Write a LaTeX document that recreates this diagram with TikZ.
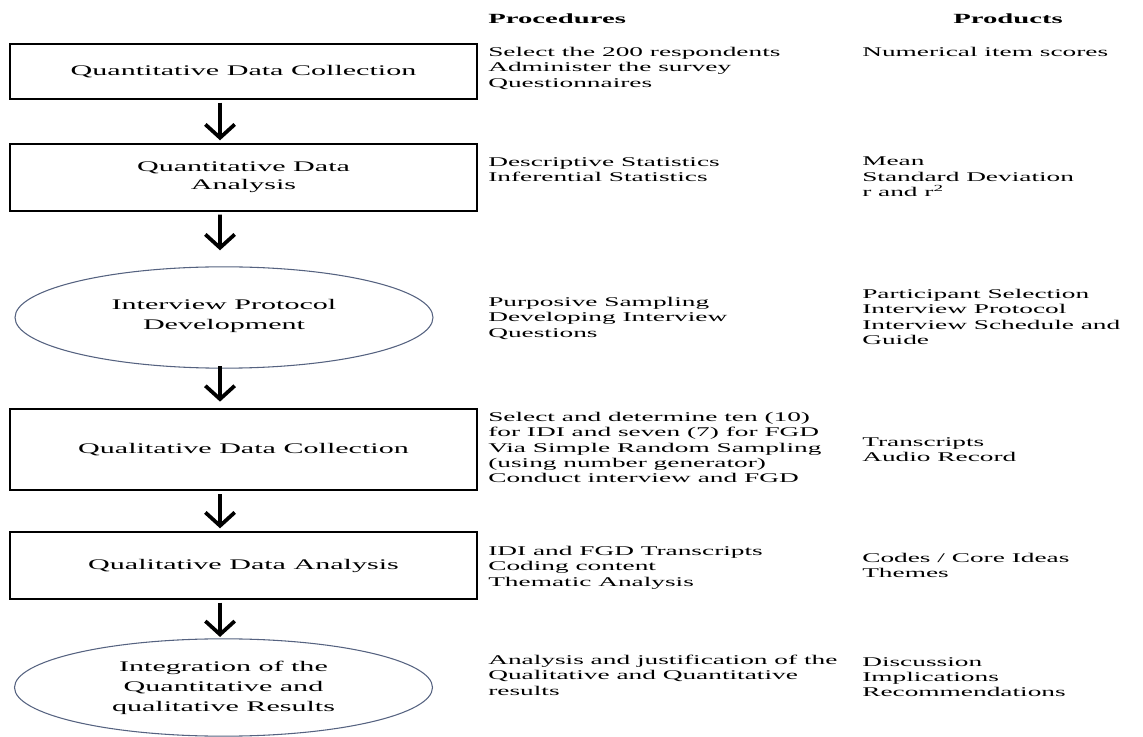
\documentclass[tikz,border=0pt]{standalone}
\usepackage{fontspec}
\setmainfont{Liberation Serif}[FakeStretch=2.05]
\usetikzlibrary{arrows.meta,shapes.geometric}
\definecolor{ellline}{RGB}{85,98,128}

\begin{document}
\begin{tikzpicture}[x=0.75pt,y=-0.75pt,
  flowbox/.style={draw,line width=1.8pt,minimum width=350pt,align=center,
    font=\fontsize{11}{13.5}\selectfont,inner sep=0pt},
  flowell/.style={ellipse,draw=ellline,line width=0.8pt,minimum width=313.5pt,
    align=center,font=\fontsize{11}{15}\selectfont,inner sep=0pt},
  flowarr/.style={-{Straight Barb[length=10pt,width=22pt]},line width=2.8pt,
    shorten <=2pt,shorten >=2pt},
  colhead/.style={font=\fontsize{10.5}{12}\selectfont\bfseries,anchor=west,inner sep=0pt},
  coltext/.style={font=\fontsize{10}{11.5}\selectfont,align=left,anchor=north west,inner sep=0pt}
]
  \useasboundingbox (0,0) rectangle (1143,737);
  % column heads
  \node[colhead] (hproc) at (488,19) {Procedures};
  \node[colhead] (hprod) at (953,19) {Products};
  % flow of phases
  \node[flowbox,minimum height=41pt] (qncoll) at (243.5,71.5) {Quantitative Data Collection};
  \node[flowbox,minimum height=50pt] (qnanal) at (243.5,177.5) {Quantitative Data\\Analysis};
  \node[flowell,minimum height=76pt] (ipdev) at (224,317.5) {Interview Protocol\\Development\\[-10pt]};
  \node[flowbox,minimum height=61pt] (qlcoll) at (243.5,449.5) {Qualitative Data Collection};
  \node[flowbox,minimum height=50pt] (qlanal) at (243.5,565.5) {Qualitative Data Analysis};
  \node[flowell,minimum height=73pt] (integ) at (223.5,687.5) {Integration of the\\Quantitative and\\qualitative Results};
  % arrows
  \draw[flowarr] ([xshift=-17.6pt]qncoll.south) -- ([xshift=-17.6pt]qnanal.north);
  \draw[flowarr,shorten >=12pt] ([xshift=-17.6pt]qnanal.south) -- ([xshift=-3pt]ipdev.north);
  \draw[flowarr,shorten <=-2pt,shorten >=4.5pt] ([xshift=-3pt]ipdev.south) -- ([xshift=-17.6pt]qlcoll.north);
  \draw[flowarr] ([xshift=-17.6pt]qlcoll.south) -- ([xshift=-17.6pt]qlanal.north);
  \draw[flowarr,shorten >=1pt] ([xshift=-17.6pt]qlanal.south) -- ([xshift=-2.6pt]integ.north);
  % procedures
  \node[coltext] (proc1) at (488,47) {Select the 200 respondents\\Administer the survey\\Questionnaires};
  \node[coltext] (proc2) at (488,157) {Descriptive Statistics\\Inferential Statistics};
  \node[coltext] (proc3) at (488,297) {Purposive Sampling\\Developing Interview\\Questions};
  \node[coltext] (proc4) at (488,412) {Select and determine ten (10)\\for IDI and seven (7) for FGD\\Via Simple Random Sampling\\(using number generator)\\Conduct interview and FGD};
  \node[coltext] (proc5) at (488,546) {IDI and FGD Transcripts\\Coding content\\Thematic Analysis};
  \node[coltext] (proc6) at (488,655) {Analysis and justification of the\\Qualitative and Quantitative\\results};
  % products
  \node[coltext] (prod1) at (862,47) {Numerical item scores};
  \node[coltext] (prod2) at (862,157) {Mean\\Standard Deviation\\r and r\textsuperscript{2}};
  \node[coltext] (prod3) at (862,289) {Participant Selection\\Interview Protocol\\Interview Schedule and\\Guide};
  \node[coltext] (prod4) at (862,437) {Transcripts\\Audio Record};
  \node[coltext] (prod5) at (862,553) {Codes / Core Ideas\\Themes};
  \node[coltext] (prod6) at (862,657) {Discussion\\Implications\\Recommendations};
\end{tikzpicture}
\end{document}
